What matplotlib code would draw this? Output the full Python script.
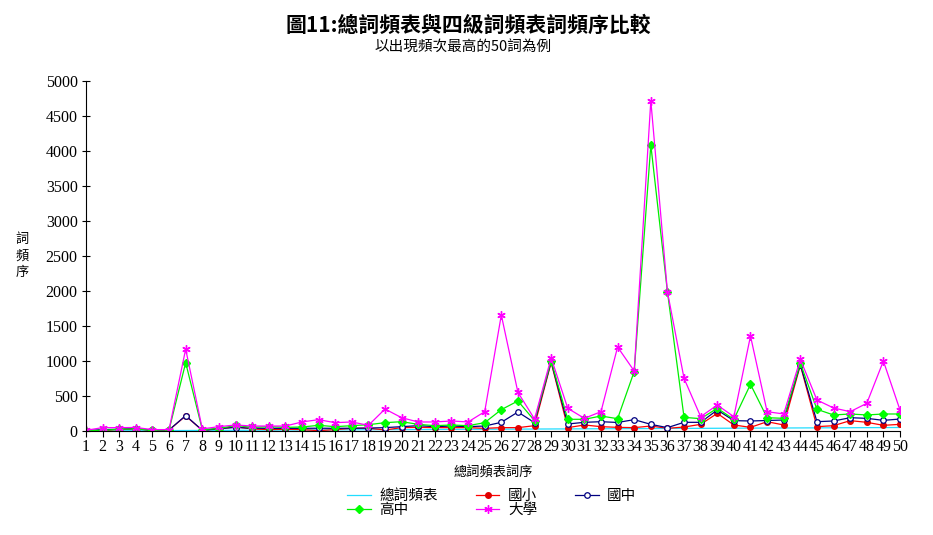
import matplotlib.pyplot as plt

plt.rcParams['font.family'] = ['Noto Sans CJK TC', 'DejaVu Sans']

ranks = list(range(1, 51))
zong = [1, 2, 3, 4, 5, 6, 7, 8, 9, 10, 11, 12, 13, 14, 15, 16, 17, 18, 19, 20,
        21, 22, 23, 24, 25, 26, 27, 28, 29, 30, 31, 32, 33, 34, 35, 36, 37, 38, 39, 40,
        41, 42, 43, 44, 45, 46, 47, 48, 49, 50]
guoxiao = [5, 5, 25, 30, 10, 15, 215, 10, 30, 60, 30, 20, 25, 20, 5, 20, 38, 40, 15, 48,
           52, 48, 48, 48, 38, 48, 48, 76, 980, 48, 86, 62, 52, 48, 71, 38, 57, 95, 252, 86,
           52, 133, 86, 940, 62, 76, 148, 124, 81, 95]
guozhong = [5, 20, 25, 35, 10, 15, 220, 10, 35, 50, 40, 38, 38, 38, 40, 38, 40, 42, 48, 62,
            76, 62, 71, 62, 71, 124, 271, 119, 990, 100, 124, 133, 122, 162, 95, 48, 124, 124, 300, 148,
            143, 150, 157, 950, 133, 143, 190, 181, 152, 171]
gaozhong = [5, 10, 25, 30, 10, 15, 976, 20, 35, 80, 52, 62, 52, 57, 81, 62, 76, 90, 119, 133,
            95, 76, 86, 76, 119, 305, 429, 148, 1005, 167, 167, 214, 176, 850, 4086, 1990, 195, 176, 324, 167,
            667, 190, 181, 970, 310, 229, 243, 229, 243, 243]
daxue = [10, 48, 48, 50, 20, 20, 1170, 30, 62, 86, 71, 71, 71, 129, 162, 119, 129, 81, 314, 190,
         129, 129, 143, 129, 276, 1657, 552, 171, 1045, 324, 181, 276, 1200, 857, 4720, 1990, 752, 205, 371, 205,
         1357, 276, 243, 1025, 443, 329, 276, 395, 1000, 300]

fig = plt.figure(figsize=(9.33, 5.35), dpi=100)
ax = fig.add_axes([86 / 933, 1 - 431 / 535, 814 / 933, 350 / 535])

l1, = ax.plot(ranks, zong, color='#22ddff', lw=0.9, label='總詞頻表')
l2, = ax.plot(ranks, guoxiao, color='#ff0000', lw=0.9, marker='o', ms=4,
              mfc='#e00000', mec='#e00000', label='國小')
l3, = ax.plot(ranks, guozhong, color='#000080', lw=0.9, marker='o', ms=4,
              mfc='white', mec='#000080', mew=0.9, label='國中')
l4, = ax.plot(ranks, gaozhong, color='#00ee00', lw=0.9, marker='D', ms=4,
              mfc='#00ff00', mec='#00ff00', label='高中')
l5, = ax.plot(ranks, daxue, color='#ff00ff', lw=0.9, marker=(6, 2, 0), ms=6,
              mec='#ff00ff', mew=1.0, label='大學')

ax.set_xlim(1, 50)
ax.set_ylim(0, 5000)
ax.set_xticks(ranks)
ax.set_yticks(range(0, 5001, 500))
ax.spines['top'].set_visible(False)
ax.spines['right'].set_visible(False)
ax.tick_params(axis='y', direction='inout', length=6, width=0.8, pad=3)
ax.tick_params(axis='x', direction='out', length=4, width=0.8, pad=2)
for t in ax.get_xticklabels() + ax.get_yticklabels():
    t.set_family('Liberation Serif')
    t.set_fontsize(11.5)

ax.set_xlabel('總詞頻表詞序', fontsize=9.5, labelpad=8)
fig.text(22 / 933, 1 - 256 / 535, '詞\n頻\n序', fontsize=9.5, ha='center', va='center',
         linespacing=1.35)

fig.text(468 / 933, 1 - 25 / 535, '圖11:總詞頻表與四級詞頻表詞頻序比較', fontsize=15,
         fontweight='bold', ha='center', va='center')
fig.text(463 / 933, 1 - 47 / 535, '以出現頻次最高的50詞為例', fontsize=10.5,
         ha='center', va='center')

fig.legend([l1, l4, l2, l5, l3], ['總詞頻表', '高中', '國小', '大學', '國中'],
           ncol=3, frameon=False, fontsize=10.5, loc='center',
           bbox_to_anchor=(492 / 933, 1 - 503 / 535), columnspacing=2.6,
           handlelength=1.6, labelspacing=0.0, handletextpad=0.6)

fig.savefig('out.png', dpi=100)
